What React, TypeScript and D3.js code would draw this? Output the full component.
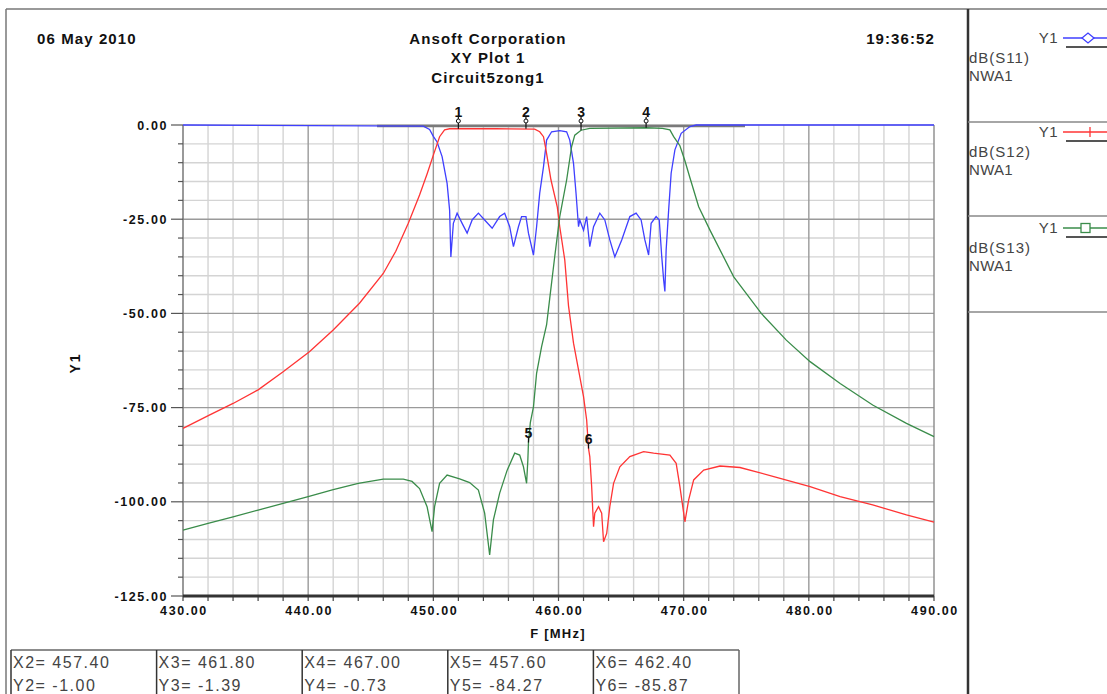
import * as d3 from 'd3';

// S11 (blue), S12 (red), S13 (green) as [F MHz, dB]
const s11: [number, number][] = [
  [430, 0], [449.2, -0.3], [449.7, -1.2], [450, -3], [450.3, -4.5], [450.7, -8.4], [451.1, -15.5],
  [451.3, -22.6], [451.4, -35], [451.6, -26.1], [451.9, -23.4], [452.3, -26.1], [452.7, -28.7],
  [453.1, -25.2], [453.6, -23.4], [454.1, -25.2], [454.7, -27.4], [455.3, -24.3], [455.7, -23.4],
  [456.1, -27], [456.4, -32.3], [456.8, -27], [457.05, -24.3], [457.4, -24.3], [457.6, -28.7],
  [458, -34.5], [458.25, -27], [458.5, -18.1], [458.8, -11.1], [459.05, -4], [459.45, -1.8],
  [460.1, -1.5], [460.65, -1.8], [460.9, -4], [461.2, -10.2], [461.4, -18.1], [461.6, -27],
  [461.7, -25.2], [462, -27.9], [462.25, -24.3], [462.5, -32.3], [462.8, -27], [463.3, -23.4],
  [463.7, -25.2], [464.1, -30.5], [464.5, -35], [465.05, -30.5], [465.7, -24.3], [466.2, -23.4],
  [466.6, -25.2], [466.9, -30.5], [467.2, -34.5], [467.4, -26.1], [467.8, -24.3], [468.05, -25.2],
  [468.25, -35], [468.4, -41.1], [468.5, -44.2], [468.6, -33.2], [468.8, -22.6], [469, -12.8],
  [469.3, -6.6], [469.8, -2.2], [470.5, -0.4], [471, 0], [490, 0],
];

const s12: [number, number][] = [
  [430, -80.5], [432.1, -77], [434, -73.9], [436, -70.3], [438, -65.5], [440.1, -60.2], [442, -54.4],
  [444.1, -47.3], [446, -39.4], [447, -33.5], [448, -26.1], [448.9, -18.6], [449.5, -13], [450, -8],
  [450.5, -3.1], [450.9, -1.3], [451.3, -1.0], [455, -1.0], [458.1, -1.1], [458.5, -1.8],
  [458.8, -3.1], [459, -6.6], [459.4, -14.6], [459.9, -21.7], [460.1, -27], [460.5, -35.8],
  [460.8, -48], [461.2, -57.9], [461.6, -65], [462, -72.1], [462.25, -78.3], [462.4, -85.9],
  [462.5, -88], [462.65, -96], [462.8, -106.6], [462.9, -103], [463.2, -101.3], [463.45, -103],
  [463.6, -110.6], [463.85, -108.4], [464.1, -101.3], [464.4, -95.1], [464.9, -90.7], [465.7, -88],
  [466.8, -86.7], [467.6, -87.1], [468.9, -87.6], [469.4, -89.8], [469.7, -96], [470.1, -105.3],
  [470.4, -99.5], [470.8, -94.2], [471.6, -91.6], [472.9, -90.5], [474.5, -90.9], [477.2, -93.3],
  [480.1, -96], [482.5, -98.6], [485.1, -100.8], [487.8, -103.5], [490, -105.4],
];

const s13: [number, number][] = [
  [430, -107.5], [432, -105.7], [434, -104], [436, -102.2], [438, -100.4], [440, -98.6], [442, -96.8],
  [444, -95.1], [446, -94], [447.6, -94], [448.3, -94.6], [448.9, -96.5], [449.5, -101.3],
  [449.9, -107.9], [450.1, -101.3], [450.5, -95.1], [451.1, -92.9], [452.1, -93.9], [452.9, -94.9],
  [453.6, -96.9], [454.1, -103], [454.5, -114.1], [454.8, -104.8], [455.3, -97.7], [455.9, -91.6],
  [456.5, -87.1], [456.9, -87.6], [457.2, -90.7], [457.45, -95.1], [457.55, -89], [457.6, -84.3],
  [457.75, -79], [458, -74.8], [458.25, -65.9], [458.65, -58.8], [459.05, -53], [459.3, -46],
  [459.7, -34.9], [460.1, -24.3], [460.65, -14.6], [461.05, -5.7], [461.3, -2.7], [461.8, -1.39],
  [462.5, -0.9], [467, -0.73], [468.3, -0.9], [468.9, -1.3], [469.2, -3.1], [469.7, -5.5],
  [470.1, -9.5], [470.5, -14], [471.2, -21.7], [472.1, -27.9], [474, -40.3], [476.2, -50],
  [478.2, -57.1], [480.1, -62.8], [482.5, -68.6], [485.1, -74.3], [487.8, -79.2], [490, -82.7],
];

const xTicks = [430, 440, 450, 460, 470, 480, 490];
const yTicks = [0, -25, -50, -75, -100, -125];
const topBand = [445.5, 474.9];

const markerIds = [1, 2, 3, 4, 5, 6];
const markerFreq = [452.0, 457.4, 461.8, 467.0, 457.6, 462.4];
const markerDb = [-1.0, -1.0, -1.39, -0.73, -84.27, -85.87];
const tableMarkers = [2, 3, 4, 5, 6];

const legendNames = ['dB(S11)', 'dB(S12)', 'dB(S13)'];
const legendSource = 'NWA1';
const legendY = 'Y1';
const colors = ['#3f3fff', '#ff3434', '#3a8c4a'];

const FONT = "'Liberation Sans', Arial, sans-serif";

// plain hyphen minus, like the original printout
const fmt = (v: number) => v.toFixed(2);

export default function App() {
  const x = d3.scaleLinear().domain([430, 490]).range([183, 934]);
  const y = d3.scaleLinear().domain([-125, 0]).range([596, 125]);
  const line = d3.line<[number, number]>().x((d) => x(d[0])).y((d) => y(d[1]));

  const minorX = d3.range(432, 490, 2).filter((v) => v % 10 !== 0);
  const majorX = xTicks.filter((v) => v > 430 && v < 490);
  const minorY = d3.range(-120, 0, 5).filter((v) => v % 25 !== 0);
  const majorY = yTicks.filter((v) => v > -125 && v < 0);
  const tickX = d3.range(430, 490.01, 2);
  const tickY = d3.range(-125, 0.01, 5);

  const series = [s11, s12, s13];

  return (
    <svg width={1107} height={694} style={{ position: 'absolute', left: 0, top: 0, background: '#fff' }}
      fontFamily={FONT}>
      {/* frame */}
      <line x1={6} x2={1107} y1={9} y2={9} stroke="#777" strokeWidth={1.5} />
      <line x1={6} x2={6} y1={9} y2={694} stroke="#777" strokeWidth={1.5} />
      <line x1={968} x2={968} y1={9} y2={694} stroke="#333" strokeWidth={2.5} />

      {/* header */}
      <g fontWeight="bold" fontSize={15} fill="#111" letterSpacing={1.1}>
        <text x={37} y={44}>06 May 2010</text>
        <text x={488} y={44} textAnchor="middle">Ansoft Corporation</text>
        <text x={488} y={63} textAnchor="middle">XY Plot 1</text>
        <text x={488} y={83} textAnchor="middle">Circuit5zong1</text>
        <text x={935} y={44} textAnchor="end">19:36:52</text>
      </g>

      {/* grid */}
      {minorX.map((v) => (
        <line key={'mx' + v} x1={x(v)} x2={x(v)} y1={y(0)} y2={y(-125)} stroke="#d4d4d4" strokeWidth={1.4} />
      ))}
      {minorY.map((v) => (
        <line key={'my' + v} x1={x(430)} x2={x(490)} y1={y(v)} y2={y(v)} stroke="#d4d4d4" strokeWidth={1.4} />
      ))}
      {majorX.map((v) => (
        <line key={'Mx' + v} x1={x(v)} x2={x(v)} y1={y(0)} y2={y(-125)} stroke="#9a9a9a" strokeWidth={1.4} />
      ))}
      {majorY.map((v) => (
        <line key={'My' + v} x1={x(430)} x2={x(490)} y1={y(v)} y2={y(v)} stroke="#9a9a9a" strokeWidth={1.4} />
      ))}
      <line x1={x(490)} x2={x(490)} y1={y(0)} y2={y(-125)} stroke="#8a8a8a" strokeWidth={1.4} />
      <line x1={x(430)} x2={x(490)} y1={y(0)} y2={y(0)} stroke="#9a9a9a" strokeWidth={1} />

      {/* axes */}
      <line x1={x(430)} x2={x(430)} y1={y(0)} y2={y(-125)} stroke="#777" strokeWidth={1.5} />
      {tickY.map((v) => (
        <line key={'ty' + v} x1={x(430) - (v % 25 === 0 ? 12 : 5)} x2={x(430)} y1={y(v)} y2={y(v)}
          stroke="#555" strokeWidth={1.2} />
      ))}
      {tickX.map((v) => (
        <line key={'tx' + v} x1={x(v)} x2={x(v)} y1={y(-125)} y2={y(-125) + 5} stroke="#444" strokeWidth={1.2} />
      ))}
      <line x1={x(430)} x2={x(490)} y1={y(-125)} y2={y(-125)} stroke="#333" strokeWidth={3} />

      <g fontWeight="bold" fontSize={12.5} fill="#111" letterSpacing={1.6}>
        {yTicks.map((v) => (
          <text key={'ly' + v} x={168} y={y(v) + 4.5} textAnchor="end">{fmt(v)}</text>
        ))}
        {xTicks.map((v) => (
          <text key={'lx' + v} x={x(v) + 1} y={615} textAnchor="middle">{fmt(v)}</text>
        ))}
      </g>
      <text x={558} y={638} textAnchor="middle" fontWeight="bold" fontSize={13} letterSpacing={1.2} fill="#111">F [MHz]</text>
      <text transform="translate(80,363) rotate(-90)" textAnchor="middle" fontWeight="bold" fontSize={14}
        letterSpacing={2} fill="#111">Y1</text>

      {/* top band */}
      <line x1={x(topBand[0])} x2={x(topBand[1])} y1={y(0) + 1} y2={y(0) + 1} stroke="#7a7a7a" strokeWidth={2.5} />

      {/* curves */}
      {series.map((s, i) => (
        <path key={'s' + i} d={line(s) || ''} fill="none" stroke={colors[i]} strokeWidth={1.3} />
      ))}

      {/* markers */}
      {markerIds.map((id, i) => {
        const mx = x(markerFreq[i]);
        const my = y(markerDb[i]);
        if (i < 4) {
          return (
            <g key={'m' + id}>
              <line x1={mx} x2={mx} y1={117} y2={my} stroke="#111" strokeWidth={1.2} />
              <circle cx={mx} cy={121} r={2} fill="#fff" stroke="#111" strokeWidth={1} />
              <text x={mx} y={117} textAnchor="middle" fontWeight="bold" fontSize={14} fill="#111">{id}</text>
            </g>
          );
        }
        return (
          <g key={'m' + id}>
            <line x1={mx} x2={mx} y1={my - 6} y2={my} stroke="#111" strokeWidth={1.2} />
            <text x={mx} y={my - 5} textAnchor="middle" fontWeight="bold" fontSize={14} fill="#111">{id}</text>
          </g>
        );
      })}

      {/* legend */}
      {legendNames.map((name, i) => {
        const top = [38, 132, 228][i];
        const sep = [122, 216, 312][i];
        const c = colors[i];
        return (
          <g key={'lg' + i}>
            <text x={1058} y={top + 5} textAnchor="end" fontSize={15} fill="#444" letterSpacing={0.5}>{legendY}</text>
            <line x1={1063} x2={1107} y1={top} y2={top} stroke={c} strokeWidth={1.3} />
            <line x1={1066} x2={1107} y1={top + 9} y2={top + 9} stroke="#555" strokeWidth={2} />
            {i === 0 && (
              <path d={`M${1088 - 6},${top} L1088,${top - 5} L${1088 + 6},${top} L1088,${top + 5} Z`}
                fill="#fff" stroke={c} strokeWidth={1.3} />
            )}
            {i === 1 && <line x1={1090} x2={1090} y1={top - 5} y2={top + 5} stroke={c} strokeWidth={1.3} />}
            {i === 2 && <rect x={1081} y={top - 4.5} width={9} height={9} fill="#fff" stroke={c} strokeWidth={1.3} />}
            <text x={969} y={top + 25} fontSize={15} fill="#444" letterSpacing={1}>{name}</text>
            <text x={969} y={top + 43} fontSize={15} fill="#444" letterSpacing={0.3}>{legendSource}</text>
            <line x1={968} x2={1107} y1={sep} y2={sep} stroke="#888" strokeWidth={1.5} />
          </g>
        );
      })}

      {/* marker table */}
      <line x1={11} x2={739} y1={650} y2={650} stroke="#666" strokeWidth={1.5} />
      {tableMarkers.map((id, j) => {
        const i = markerIds.indexOf(id);
        const left = 11 + j * 145.6;
        return (
          <g key={'t' + id}>
            <line x1={left} x2={left} y1={650} y2={694} stroke="#333" strokeWidth={1.5} />
            <text x={left + 2} y={668} fontSize={16} fill="#444" letterSpacing={1.5}>{`X${id}= ${fmt(markerFreq[i])}`}</text>
            <text x={left + 2} y={691} fontSize={16} fill="#444" letterSpacing={1.5}>{`Y${id}= ${fmt(markerDb[i])}`}</text>
          </g>
        );
      })}
      <line x1={739} x2={739} y1={650} y2={694} stroke="#666" strokeWidth={1.5} />
    </svg>
  );
}
